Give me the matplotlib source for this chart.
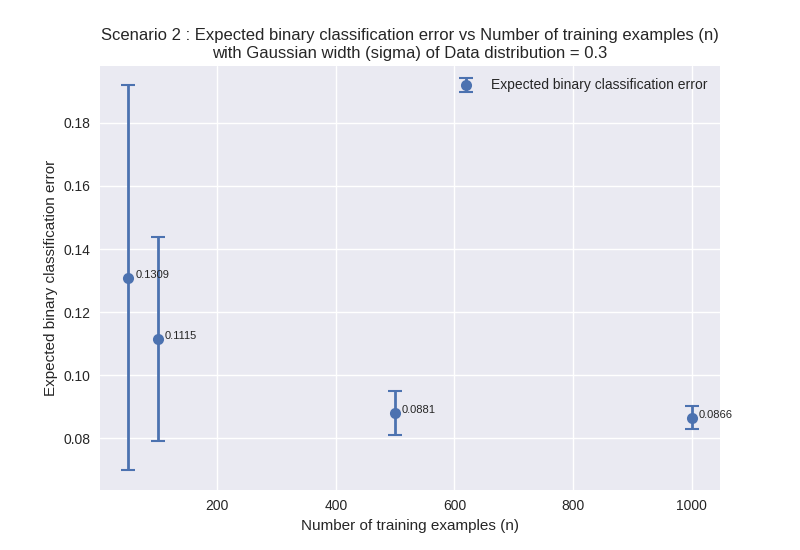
import matplotlib
matplotlib.use("Agg")
import matplotlib.pyplot as plt

plt.style.use("seaborn-v0_8")

n_values = [50, 100, 500, 1000]
mean_errors = [0.1309, 0.1115, 0.0881, 0.0866]
std_errors = [0.061, 0.0323, 0.0069, 0.0037]
labels = ["0.1309", "0.1115", "0.0881", "0.0866"]

fig, ax = plt.subplots(figsize=(8, 5.5), dpi=100)
ax.errorbar(n_values, mean_errors, yerr=std_errors, fmt='o', capsize=5,
            markersize=8, elinewidth=2, capthick=1.5, color='#4c72b0',
            label='Expected binary classification error')
for x, y, t in zip(n_values, mean_errors, labels):
    ax.annotate(t, (x, y), xytext=(5, 0), textcoords='offset points', fontsize=8)
ax.set_xlabel('Number of training examples (n)')
ax.set_ylabel('Expected binary classification error')
ax.set_title('Scenario 2 : Expected binary classification error vs Number of training examples (n)\n'
             'with Gaussian width (sigma) of Data distribution = 0.3')
ax.legend(loc='upper right')
fig.savefig('out.png')
